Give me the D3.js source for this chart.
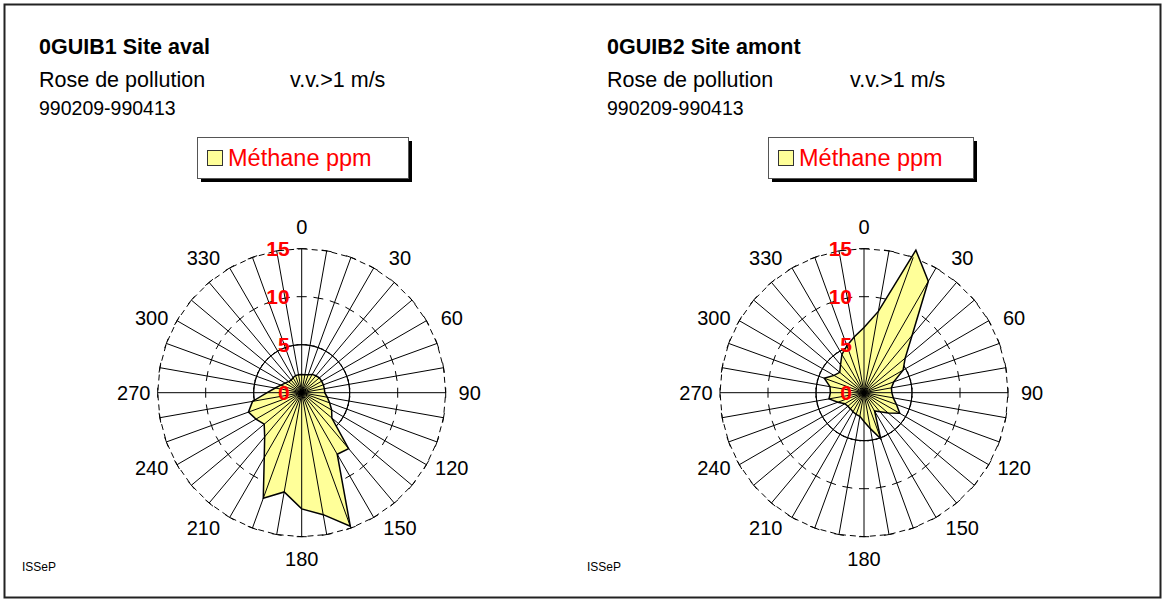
<!DOCTYPE html>
<html>
<head>
<meta charset="utf-8">
<script src="https://cdn.jsdelivr.net/npm/d3@7"></script>
<style>
  body { margin: 0; background: #fff; }
  svg text { font-family: "Liberation Sans", Arial, sans-serif; }
</style>
</head>
<body>
<div id="chart"></div>
<script>
// wind directions (degrees) and methane (ppm) per direction
var directions = d3.range(0, 360, 10);
var valuesAval = [1.9, 1.9, 2.0, 2.2, 2.3, 2.4, 2.4, 2.4, 2.4, 2.4, 2.7, 3.1,
                  3.6, 4.1, 7.6, 7.4, 14.8, 12.9, 12.1, 10.5, 11.7, 7.8, 6.0, 5.1,
                  5.5, 5.9, 5.2, 3.6, 2.8, 2.3, 2.0, 1.8, 1.7, 1.8, 1.9, 1.9];
var valuesAmont = [6.8, 8.6, 15.8, 13.4, 7.8, 5.6, 4.7, 3.3, 2.9, 2.9, 3.1, 3.6,
                   4.3, 3.3, 2.6, 2.2, 5.1, 3.8, 3.0, 2.5, 2.4, 2.3, 2.2, 2.2,
                   2.3, 2.9, 3.7, 3.5, 3.6, 4.4, 3.6, 3.3, 3.8, 4.6, 5.2, 5.9];
var radialTicks = [0, 5, 10, 15];
var angleLabels = d3.range(0, 360, 30);
var titles = ["0GUIB1 Site aval", "0GUIB2 Site amont"];
var subtitle = "Rose de pollution";
var speedNote = "v.v.>1 m/s";
var period = "990209-990413";
var seriesName = "Méthane ppm";
var source = "ISSeP";

var W = 1165, H = 602;
var svg = d3.select("#chart").append("svg")
  .attr("width", W).attr("height", H);

// outer frame
svg.append("rect")
  .attr("x", 4.5).attr("y", 4.5)
  .attr("width", 1156).attr("height", 593)
  .attr("fill", "none").attr("stroke", "#222").attr("stroke-width", 2);

var R = 144;
var r = d3.scaleLinear().domain([0, 15]).range([0, R]);

var panels = [
  { values: valuesAval, cx: 301.7, cy: 392.7, tx: 39, noteX: 290, legX: 197, legW: 211, srcX: 22 },
  { values: valuesAmont, cx: 864, cy: 392.7, tx: 607, noteX: 850, legX: 768, legW: 205, srcX: 587 }
];

var rad = function(a) { return a * Math.PI / 180; };

panels.forEach(function(p, i) {
  var g = svg.append("g");

  // header texts
  g.append("text").attr("x", p.tx).attr("y", 54)
    .attr("font-size", 21.5).attr("font-weight", "bold").text(titles[i]);
  g.append("text").attr("x", p.tx).attr("y", 87)
    .attr("font-size", 21.5).text(subtitle);
  g.append("text").attr("x", p.noteX).attr("y", 87)
    .attr("font-size", 21.5).text(speedNote);
  g.append("text").attr("x", p.tx).attr("y", 115)
    .attr("font-size", 19.5).text(period);

  // legend with shadow
  g.append("rect").attr("x", p.legX + 4).attr("y", 141)
    .attr("width", p.legW).attr("height", 41).attr("fill", "#000");
  g.append("rect").attr("x", p.legX + 0.5).attr("y", 137.5)
    .attr("width", p.legW).attr("height", 41)
    .attr("fill", "#fff").attr("stroke", "#555").attr("stroke-width", 1);
  g.append("rect").attr("x", p.legX + 10.5).attr("y", 150.5)
    .attr("width", 15).attr("height", 15)
    .attr("fill", "#ffff99").attr("stroke", "#333").attr("stroke-width", 1);
  g.append("text").attr("x", p.legX + 31).attr("y", 166)
    .attr("font-size", 23.5).attr("fill", "#ff0000").text(seriesName);

  g.append("text").attr("x", p.srcX).attr("y", 571)
    .attr("font-size", 12).text(source);

  var plot = g.append("g")
    .attr("transform", "translate(" + p.cx + "," + p.cy + ")");

  var ring = d3.lineRadial()
    .angle(function(d) { return rad(d); })
    .curve(d3.curveLinearClosed);

  // solid ring at 5, dashed ring at 15
  plot.append("path")
    .attr("d", ring.radius(r(5))(directions))
    .attr("fill", "none").attr("stroke", "#000").attr("stroke-width", 1);
  plot.append("path")
    .attr("d", ring.radius(r(15))(directions))
    .attr("fill", "none").attr("stroke", "#000").attr("stroke-width", 1)
    .attr("stroke-dasharray", "6,4");

  // tick marks on every spoke
  directions.forEach(function(dir) {
    var sx = Math.sin(rad(dir)), sy = -Math.cos(rad(dir));
    radialTicks.slice(1).forEach(function(t) {
      var d = r(t);
      plot.append("line")
        .attr("x1", d * sx - 5 * sy).attr("y1", d * sy + 5 * sx)
        .attr("x2", d * sx + 5 * sy).attr("y2", d * sy - 5 * sx)
        .attr("stroke", "#000").attr("stroke-width", 1);
    });
  });

  // the series polygon
  var area = d3.lineRadial()
    .angle(function(d) { return rad(d.dir); })
    .radius(function(d) { return r(d.v); })
    .curve(d3.curveLinearClosed);
  var pts = directions.map(function(dir, k) { return { dir: dir, v: p.values[k] }; });
  plot.append("path")
    .attr("d", area(pts))
    .attr("fill", "#ffff99").attr("stroke", "#000").attr("stroke-width", 1.5);

  // spokes
  plot.selectAll(".spoke").data(directions).enter().append("line")
    .attr("class", "spoke")
    .attr("x1", 0).attr("y1", 0)
    .attr("x2", function(d) { return r(15) * Math.sin(rad(d)); })
    .attr("y2", function(d) { return -r(15) * Math.cos(rad(d)); })
    .attr("stroke", "#000").attr("stroke-width", 1);

  // angle labels, pushed a little towards the horizontal like the original
  plot.selectAll(".alab").data(angleLabels).enter().append("text")
    .attr("class", "alab")
    .attr("font-size", 20)
    .attr("text-anchor", "middle")
    .attr("dominant-baseline", "central")
    .text(function(d) { return d; })
    .each(function(d) {
      var s = Math.sin(rad(d)), c = Math.cos(rad(d));
      var sign = Math.abs(s) < 1e-6 ? 0 : (s > 0 ? 1 : -1);
      var shift = 7 * Math.abs(c);
      var ang = c > 0 ? d + sign * shift : d - sign * shift;
      var dist = 166 + Math.abs(s) * 2;
      d3.select(this)
        .attr("x", dist * Math.sin(rad(ang)))
        .attr("y", -dist * Math.cos(rad(ang)));
    });

  // radial value labels
  plot.selectAll(".rlab").data(radialTicks).enter().append("text")
    .attr("class", "rlab")
    .attr("x", -12)
    .attr("y", function(d) { return -r(d); })
    .attr("text-anchor", "end")
    .attr("dominant-baseline", "central")
    .attr("font-size", 21).attr("font-weight", "bold")
    .attr("fill", "#ff0000")
    .text(function(d) { return d; });
});
</script>
</body>
</html>
